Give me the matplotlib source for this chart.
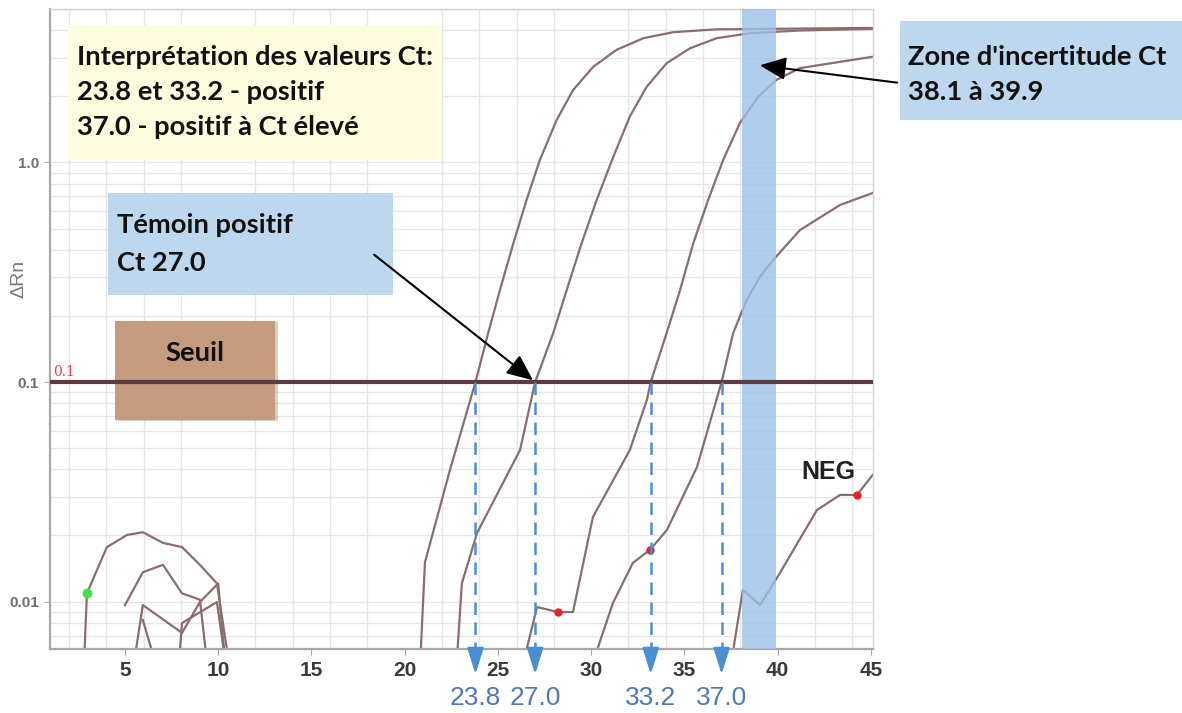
import numpy as np
import matplotlib.pyplot as plt
from matplotlib.patches import Rectangle
from matplotlib.ticker import FixedLocator, MultipleLocator, LogLocator, NullFormatter
import matplotlib.transforms as mtransforms

W, H = 1182, 713

# amplification curves: cycle number vs delta Rn
curve_a_x = [20.77, 21.09, 22.43, 23.8, 24.48, 25.11, 25.83, 26.54, 27.26, 28.15, 29.04, 30.12, 31.37, 32.8, 34.4, 36.73, 45.1]
curve_a_y = [0.004, 0.0151, 0.0397, 0.1, 0.167, 0.262, 0.428, 0.675, 1.03, 1.56, 2.14, 2.73, 3.26, 3.68, 3.92, 4.04, 4.10]

curve_b_x = [22.7, 23.07, 23.88, 26.19, 27.0, 27.97, 28.69, 29.49, 30.3, 31.19, 32.08, 32.98, 34.05, 35.3, 36.73, 38.52, 41.2, 45.1]
curve_b_y = [0.004, 0.0121, 0.0205, 0.049, 0.1, 0.167, 0.262, 0.428, 0.675, 1.06, 1.62, 2.21, 2.83, 3.31, 3.68, 3.88, 3.99, 4.06]

curve_c_x = [26.02, 27.1, 28.22, 29.03, 30.1, 32.08, 32.99, 33.2, 34.05, 34.77, 35.48, 36.28, 37.09, 37.98, 38.96, 39.95, 41.2, 45.1]
curve_c_y = [0.004, 0.00944, 0.00896, 0.00896, 0.0243, 0.049, 0.0828, 0.1, 0.167, 0.262, 0.428, 0.675, 1.03, 1.51, 1.99, 2.38, 2.69, 3.03]

curve_d_x = [29.62, 31.17, 32.24, 33.16, 34.07, 35.68, 37.0, 37.62, 38.34, 39.06, 39.77, 41.2, 43.35, 45.1]
curve_d_y = [0.004, 0.00984, 0.015, 0.0172, 0.0212, 0.041, 0.1, 0.167, 0.236, 0.302, 0.36, 0.492, 0.64, 0.726]

neg_x = [37.29, 38.14, 39.06, 40.13, 42.11, 43.35, 44.26, 45.1]
neg_y = [0.004, 0.0113, 0.00964, 0.0135, 0.0261, 0.0306, 0.0306, 0.0377]

# early-cycle baseline noise
noise_curves = [
    ([2.75, 2.96, 4.03, 5.11, 5.96, 7.04, 8.06, 9.02, 9.93, 10.79],
     [0.004, 0.0109, 0.0177, 0.0201, 0.0207, 0.0185, 0.0177, 0.0147, 0.0121, 0.004]),
    ([5.0, 5.96, 7.04, 8.06, 9.02, 9.56],
     [0.00964, 0.0136, 0.0147, 0.0109, 0.0102, 0.004]),
    ([5.27, 5.96, 8.06, 9.02, 10.0, 10.5],
     [0.004, 0.00964, 0.0072, 0.00995, 0.0121, 0.004]),
    ([5.96, 7.04], [0.00824, 0.004]),
    ([7.79, 8.06, 9.93, 10.6], [0.004, 0.00798, 0.00995, 0.004]),
]

# highlighted sample points
red_x = [28.22, 33.16, 44.26]
red_y = [0.00896, 0.0172, 0.0306]
green_x = [2.96]
green_y = [0.0109]

ct_values = [23.8, 27.0, 33.2, 37.0]
ct_labels = ["23.8", "27.0", "33.2", "37.0"]
threshold = 0.1
zone_lo, zone_hi = 38.1, 39.9
x_ticks = [5, 10, 15, 20, 25, 30, 35, 40, 45]
y_ticks = [0.01, 0.1, 1.0]
y_tick_labels = ["0.01", "0.1", "1.0"]

box_font = "Lato"
box_size = 19.7
curve_col = "#8c6d6d"


def fx(px):
    return px / W


def fy(py):
    return 1 - py / H


fig = plt.figure(figsize=(W / 100, H / 100), dpi=100)
ax = fig.add_axes([50 / W, 1 - 649 / H, 823 / W, 640 / H])
ax.set_yscale("log")
ax.set_xlim(0.98, 45.12)
ax.set_ylim(0.00608, 5.0)

# grid
ax.xaxis.set_major_locator(FixedLocator(x_ticks))
ax.xaxis.set_minor_locator(MultipleLocator(2))
ax.yaxis.set_major_locator(FixedLocator(y_ticks))
ax.yaxis.set_minor_locator(LogLocator(base=10, subs=np.arange(2, 10)))
ax.yaxis.set_minor_formatter(NullFormatter())
ax.set_yticklabels(y_tick_labels)
ax.grid(which="minor", axis="x", color="#e6e6e6", lw=1)
ax.grid(which="both", axis="y", color="#e6e6e6", lw=1)
ax.set_axisbelow(True)

ax.tick_params(axis="x", which="major", length=4, color="#aaaaaa", pad=5,
               labelsize=15, labelcolor="#3a3a3a")
ax.tick_params(axis="y", which="major", length=4, color="#aaaaaa", pad=4,
               labelsize=11, labelcolor="#707070")
ax.tick_params(which="minor", length=0)
for lab in ax.get_xticklabels():
    lab.set_fontweight("bold")
    lab.set_family("Liberation Sans")
for lab in ax.get_yticklabels():
    lab.set_fontweight("bold")
    lab.set_family("Liberation Sans")

for side in ["left", "bottom"]:
    ax.spines[side].set_color("#a8a8a8")
    ax.spines[side].set_linewidth(1.6)
for side in ["top", "right"]:
    ax.spines[side].set_color("#d4d4d4")
    ax.spines[side].set_linewidth(1.0)

ax.set_ylabel("ΔRn", fontsize=14, color="#7a7a7a", family="Liberation Sans")
ax.yaxis.set_label_coords((27 - 50) / 823, (649 - 279) / 640)

# curves
for cx, cy in [(curve_a_x, curve_a_y), (curve_b_x, curve_b_y), (curve_c_x, curve_c_y),
               (curve_d_x, curve_d_y), (neg_x, neg_y)] + noise_curves:
    ax.plot(cx, cy, color=curve_col, lw=1.6, zorder=2, solid_joinstyle="round")

ax.plot(red_x, red_y, "o", color="#e8202a", ms=5, zorder=4)
ax.plot(green_x, green_y, "o", color="#3fe03f", ms=6, zorder=4)

# uncertainty zone
ax.axvspan(zone_lo, zone_hi, color="#9cc2e6", alpha=0.8, lw=0, zorder=3)

# threshold
ax.axhline(threshold, color="#5e3b40", lw=3, zorder=5)
ax.text(1.14, threshold * 1.03, "0.1", color="#e5404f", fontsize=10,
        family="DejaVu Serif", va="bottom", ha="left", zorder=6)

# Ct markers: dashed drop lines with arrow heads below the axis
blend = mtransforms.blended_transform_factory(ax.transData, ax.transAxes)
for ct, lab in zip(ct_values, ct_labels):
    ax.plot([ct, ct], [threshold, 0.0057], ls=(0, (5, 3)), color="#4a8fd6",
            lw=1.8, clip_on=False, zorder=6)
    ax.annotate("", xy=(ct, -0.044), xycoords=blend,
                xytext=(ct, -0.008), textcoords=blend,
                arrowprops=dict(arrowstyle="-|>,head_length=0.8,head_width=0.25",
                                mutation_scale=20, color="#4a8fd6", lw=1.8),
                annotation_clip=False, zorder=6)
    ax.text(ct, -0.077, lab, transform=blend, ha="center", va="center",
            fontsize=19, color="#4e78b6", family="Liberation Sans")

ax.text(41.3, 0.039, "NEG", fontsize=18, fontweight="bold", color="#222222",
        family="Liberation Sans", va="center", ha="left", zorder=6)


# annotation boxes (pixel layout)
def box(x0, y0, x1, y1, color, zorder, parent=None, shadow=False):
    if shadow:
        sh = Rectangle((fx(x0 + 3), fy(y1 + 1)), (x1 - x0) / W, (y1 - y0) / H,
                       transform=fig.transFigure, facecolor="#b0a49c", alpha=0.5,
                       lw=0, zorder=zorder - 0.1)
        ax.add_patch(sh)
    r = Rectangle((fx(x0), fy(y1)), (x1 - x0) / W, (y1 - y0) / H,
                  transform=fig.transFigure, facecolor=color, lw=0, zorder=zorder)
    if parent is None:
        ax.add_patch(r)
    else:
        parent.add_artist(r)


def lines(x, ys, texts, ha="left"):
    for y, t in zip(ys, texts):
        fig.text(fx(x), fy(y), t, fontsize=box_size, fontweight="bold", family=box_font,
                 color="#111111", ha=ha, va="center", zorder=10)


box(68, 25, 442, 160, "#fdfcdf", 4)
lines(77, [57, 92, 127], ["Interprétation des valeurs Ct:",
                          "23.8 et 33.2 - positif",
                          "37.0 - positif à Ct élevé"])

box(108, 193, 393, 295, "#bdd7ee", 4)
lines(117, [225, 263], ["Témoin positif", "Ct 27.0"])

box(115, 321, 275, 420, "#c49b7e", 4, shadow=True)
lines(195, [353], ["Seuil"], ha="center")

box(900, 21, 1182, 120, "#bdd7ee", 4, parent=fig)
lines(908, [57, 92], ["Zone d'incertitude Ct", "38.1 à 39.9"])

arrow_kw = dict(arrowstyle="-|>,head_length=0.8,head_width=0.35",
                mutation_scale=20, color="black", lw=1.5)
ax.annotate("", xy=(27.0, threshold), xycoords="data",
            xytext=(fx(372), fy(253)), textcoords="figure fraction",
            arrowprops=arrow_kw, zorder=8)
ax.annotate("", xy=(38.9, 2.78), xycoords="data",
            xytext=(fx(900), fy(83)), textcoords="figure fraction",
            arrowprops=arrow_kw, annotation_clip=False, zorder=8)

fig.savefig("out.png", dpi=100, facecolor="white")
